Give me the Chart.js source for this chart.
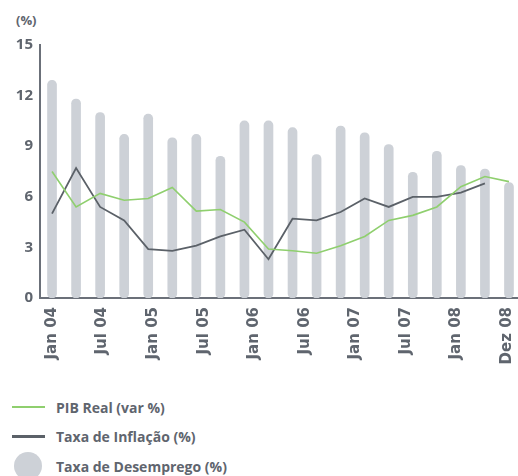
<!DOCTYPE html>
<html>
<head>
<meta charset="utf-8">
<script src="https://cdn.jsdelivr.net/npm/chart.js@4.4.1/dist/chart.umd.min.js"></script>
<style>
    html, body { margin: 0; padding: 0; overflow: hidden; background: #fff; }
    body { width: 518px; height: 476px; position: relative; font-family: 'Open Sans', sans-serif; }
    #unit { position: absolute; left: 16px; top: 11px; font-size: 13px; font-weight: 700; color: #5f656e; }
    #wrap { position: absolute; left: 0; top: 0; width: 522px; height: 380px; }
    .legend { position: absolute; left: 0; top: 392px; }
    .item { position: relative; height: 29.5px; }
    .item span { position: absolute; left: 56px; top: 50%; transform: translateY(-50%); font-size: 14px; font-weight: 700; color: #5f656e; white-space: nowrap; }
    .swatch-line { position: absolute; left: 12px; top: 50%; width: 33px; height: 2.5px; margin-top: -1px; }
    .swatch-dot { position: absolute; left: 14px; top: 50%; width: 28px; height: 28px; margin-top: -14px; border-radius: 50%; background: #cdd1d7; }
</style>
</head>
<body>
<div id="unit">(%)</div>
<div id="wrap"><canvas id="chart"></canvas></div>
<div class="legend">
    <div class="item"><div class="swatch-line" style="background:#8fcf6e"></div><span>PIB Real (var %)</span></div>
    <div class="item"><div class="swatch-line" style="background:#5b6168;height:3px"></div><span>Taxa de Inflação (%)</span></div>
    <div class="item"><div class="swatch-dot"></div><span>Taxa de Desemprego (%)</span></div>
</div>
<script>
// Quarterly points, Jan 04 .. Out 08
const quarters = [
    'Jan 04', 'Abr 04', 'Jul 04', 'Out 04',
    'Jan 05', 'Abr 05', 'Jul 05', 'Out 05',
    'Jan 06', 'Abr 06', 'Jul 06', 'Out 06',
    'Jan 07', 'Abr 07', 'Jul 07', 'Out 07',
    'Jan 08', 'Abr 08', 'Jul 08', 'Out 08'
];

// Labels printed under the axis
const tickLabels = ['Jan 04', 'Jul 04', 'Jan 05', 'Jul 05', 'Jan 06', 'Jul 06', 'Jan 07', 'Jul 07', 'Jan 08', 'Dez 08'];

const yTicks = [0, 3, 6, 9, 12, 15];

// Taxa de Desemprego (%)
const desemprego = [12.9, 11.8, 11.0, 9.7, 10.9, 9.5, 9.7, 8.4, 10.5, 10.5,
                    10.1, 8.5, 10.2, 9.8, 9.1, 7.45, 8.7, 7.85, 7.65, 6.85];

// PIB Real (var %)
const pibReal = [7.5, 5.4, 6.2, 5.8, 5.9, 6.55, 5.15, 5.25, 4.5, 2.9,
                 2.8, 2.65, 3.1, 3.65, 4.6, 4.9, 5.4, 6.6, 7.2, 6.9];

// Taxa de Inflação (%)
const inflacao = [5.0, 7.7, 5.4, 4.6, 2.9, 2.8, 3.1, 3.65, 4.05, 2.3,
                  4.7, 4.6, 5.1, 5.9, 5.4, 6.0, 6.0, 6.25, 6.8];

const TEXT = '#5f656e';
const AXIS = '#6b7079';
const FONT = "'Open Sans', sans-serif";

const ctx = document.getElementById('chart').getContext('2d');

new Chart(ctx, {
    type: 'bar',
    data: {
        labels: quarters,
        datasets: [
            {
                type: 'line',
                label: 'PIB Real (var %)',
                data: pibReal,
                borderColor: '#8fcf6e',
                borderWidth: 1.6,
                pointRadius: 0,
                tension: 0,
                order: 1
            },
            {
                type: 'line',
                label: 'Taxa de Inflação (%)',
                data: inflacao,
                borderColor: '#5b6168',
                borderWidth: 1.8,
                pointRadius: 0,
                tension: 0,
                order: 2
            },
            {
                label: 'Taxa de Desemprego (%)',
                data: desemprego,
                backgroundColor: '#cdd1d7',
                barThickness: 9,
                borderRadius: 5,
                borderSkipped: false,
                order: 3
            }
        ]
    },
    options: {
        responsive: true,
        maintainAspectRatio: false,
        animation: false,
        layout: { padding: { top: 45, right: 1, bottom: 0, left: 0 } },
        plugins: {
            legend: { display: false },
            tooltip: { enabled: false }
        },
        scales: {
            x: {
                offset: true,
                grid: { display: false, drawTicks: false },
                border: { display: true, color: AXIS, width: 2 },
                ticks: { display: false },
                afterFit: (scale) => { scale.height = 0; }
            },
            // separate axis for the printed month labels (evenly spread, not tied to bars)
            xLabels: {
                type: 'linear',
                position: 'bottom',
                offset: false,
                min: -0.237,
                max: 9.277,
                grid: { display: false, drawTicks: false, offset: false },
                border: { display: false },
                afterBuildTicks: (scale) => {
                    scale.ticks = tickLabels.map((_, i) => ({ value: i }));
                },
                afterFit: (scale) => {
                    scale.height = 82;
                    // don't let the rotated end labels squeeze the plot
                    scale.paddingLeft = 0;
                    scale.paddingRight = 0;
                },
                ticks: {
                    color: TEXT,
                    font: { family: "'DejaVu Sans', sans-serif", size: 15, weight: '700' },
                    minRotation: 90,
                    maxRotation: 90,
                    padding: 9,
                    callback: (value) => tickLabels[value]
                }
            },
            y: {
                min: 0,
                max: 15,
                grid: { display: false, drawTicks: false },
                border: { display: true, color: AXIS, width: 2 },
                afterBuildTicks: (scale) => {
                    scale.ticks = yTicks.map(v => ({ value: v }));
                },
                afterFit: (scale) => { scale.width = 40; },
                ticks: {
                    color: TEXT,
                    font: { family: FONT, size: 15, weight: '700' },
                    padding: 7
                }
            }
        }
    }
});
</script>
</body>
</html>
